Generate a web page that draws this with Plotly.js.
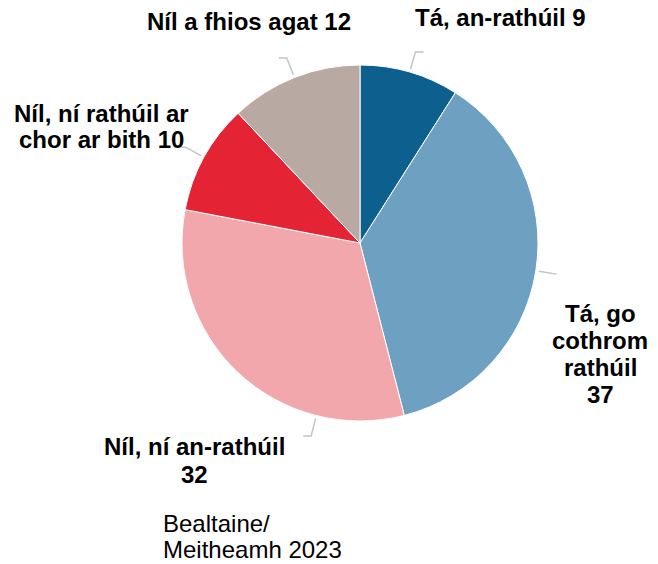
<!DOCTYPE html>
<html>
<head>
<meta charset="utf-8">
<script src="https://cdn.plot.ly/plotly-3.0.1.min.js"></script>
<style>html,body{margin:0;padding:0;background:#fff;}#chart{width:658px;height:564px;}</style>
</head>
<body>
<div id="chart"></div>
<script>
// ---- data ----
const categories = ["Tá, an-rathúil", "Tá, go cothrom rathúil", "Níl, ní an-rathúil", "Níl, ní rathúil ar chor ar bith", "Níl a fhios agat"];
const values = [9, 37, 32, 10, 12];
const labelLines = [
  ["Tá, an-rathúil 9"],
  ["Tá, go", "cothrom", "rathúil", "37"],
  ["Níl, ní an-rathúil", "32"],
  ["Níl, ní rathúil ar", "chor ar bith 10"],
  ["Níl a fhios agat 12"]
];
const colors = ["#0d5f8e", "#6ea1c1", "#f2a7ad", "#e42335", "#b8aaa3"];
const footnoteLines = ["Bealtaine/", "Meitheamh 2023"];

// ---- layout constants (pixels) ----
const W = 658, H = 564;
const CX = 360, CY = 243, R = 178;
const FS = 24;
// label placement: [x px, first baseline px, line step px, xanchor]
const labelPos = [[413, 25, 27, "left"], [600, 321, 27, "center"], [194, 454, 28, "center"], [101, 121, 26, "center"], [249, 29, 27, "center"]];
const footPos = [161, 531, 26];
// leader: angle shift (deg) applied to slice mid-angle, horizontal tick direction
const leaderShift = [0, 0, -29, 0, 0];
const leaderTick = [1, 0, -1, -1, -1];

const px = x => x / W;
const py = y => 1 - y / H;
const font = {family: "Liberation Sans, Arial, sans-serif", size: FS, color: "#000"};

const total = values.reduce((a, b) => a + b, 0);
let cum = 0;
const shapes = [];
const annotations = [];
function addLines(lines, x, base, step, xanchor, bold) {
  lines.forEach((t, k) => {
    annotations.push({
      xref: "paper", yref: "paper", x: px(x), y: py(base + k * step - 0.32 * FS),
      xanchor: xanchor, yanchor: "middle", align: "center", showarrow: false,
      text: bold ? "<b>" + t + "</b>" : t, font: font
    });
  });
}
values.forEach((v, i) => {
  const mid = (cum + v / 2) / total * 360 + leaderShift[i];
  cum += v;
  const a = mid * Math.PI / 180;
  const sx = CX + (R + 3) * Math.sin(a), sy = CY - (R + 3) * Math.cos(a);
  const ex = CX + (R + 21) * Math.sin(a), ey = CY - (R + 21) * Math.cos(a);
  let path = `M ${px(sx)} ${py(sy)} L ${px(ex)} ${py(ey)}`;
  if (leaderTick[i] !== 0) path += ` L ${px(ex + 8 * leaderTick[i])} ${py(ey)}`;
  shapes.push({type: "path", xref: "paper", yref: "paper", path: path,
    line: {color: "#c4c4c4", width: 1.5}});
  const p = labelPos[i];
  addLines(labelLines[i], p[0], p[1], p[2], p[3], true);
});
addLines(footnoteLines, footPos[0], footPos[1], footPos[2], "left", false);

const trace = {
  type: "pie",
  labels: categories,
  values: values,
  sort: false,
  direction: "clockwise",
  rotation: 0,
  textinfo: "none",
  hoverinfo: "label+value",
  marker: {colors: colors, line: {color: "#ffffff", width: 1}},
  domain: {x: [px(CX - R), px(CX + R)], y: [py(CY + R), py(CY - R)]}
};

const layout = {
  width: W, height: H,
  margin: {l: 0, r: 0, t: 0, b: 0},
  showlegend: false,
  paper_bgcolor: "#ffffff",
  shapes: shapes,
  annotations: annotations
};
Plotly.newPlot("chart", [trace], layout, {displayModeBar: false, staticPlot: true});
</script>
</body>
</html>
